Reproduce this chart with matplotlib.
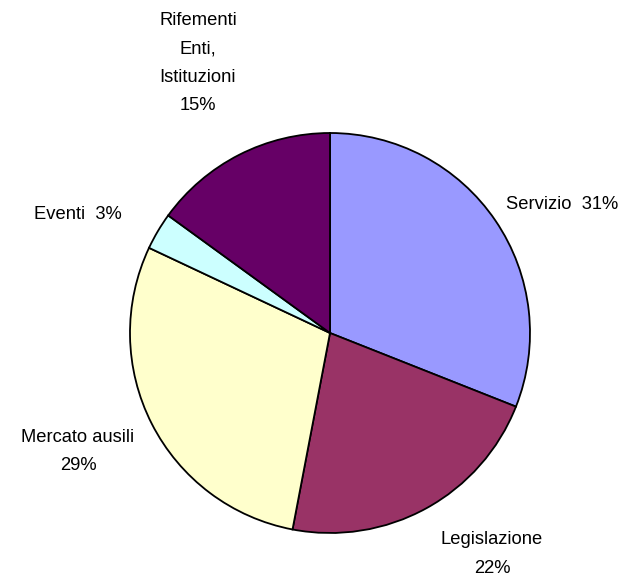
import numpy as np
import matplotlib
matplotlib.use('Agg')
import matplotlib.pyplot as plt
from matplotlib import font_manager

names = {f.name for f in font_manager.fontManager.ttflist}
if 'Liberation Sans Narrow' in names:
    plt.rcParams['font.family'] = ['Liberation Sans Narrow', 'DejaVu Sans']
    fsize = 14.8
else:
    plt.rcParams['font.family'] = ['Liberation Sans', 'DejaVu Sans']
    fsize = 13.2

labels = ['Servizio', 'Legislazione', 'Mercato ausili', 'Eventi',
          'Rifementi\nEnti,\nIstituzioni']
shares = [31, 22, 29, 3, 15]
colors = ['#9999FF', '#993366', '#FFFFCC', '#CCFFFF', '#660066']

fig = plt.figure(figsize=(6.36, 5.78), dpi=100)
ax = fig.add_axes([0, 0, 1, 1])
ax.axis('off')

wedges, _ = ax.pie(shares, colors=colors, startangle=90, counterclock=False,
                   radius=1.0, wedgeprops=dict(edgecolor='black', linewidth=1.3))

ax.set_xlim(-1.65, 1.53)
ax.set_ylim(-1.225, 1.665)

# label text and placement per slice
texts = [f'{labels[0]}  {shares[0]}%', f'{labels[1]}\n{shares[1]}%',
         f'{labels[2]}\n{shares[2]}%', f'{labels[3]}  {shares[3]}%',
         f'{labels[4]}\n{shares[4]}%']
align = ['left', 'center', 'center', 'right', 'center']
shift = [(-0.03, 0.022), (0.28, -0.141), (-0.28, -0.093), (-0.093, 0.035),
         (-0.161, 0.37)]

for w, t, ha, (dx, dy) in zip(wedges, texts, align, shift):
    ang = np.deg2rad((w.theta1 + w.theta2) / 2)
    x = 1.1 * np.cos(ang) + dx
    y = 1.1 * np.sin(ang) + dy
    ax.text(x, y, t, ha=ha, va='center', fontsize=fsize, linespacing=1.85,
            multialignment='center')

fig.savefig('out.png', dpi=100)
